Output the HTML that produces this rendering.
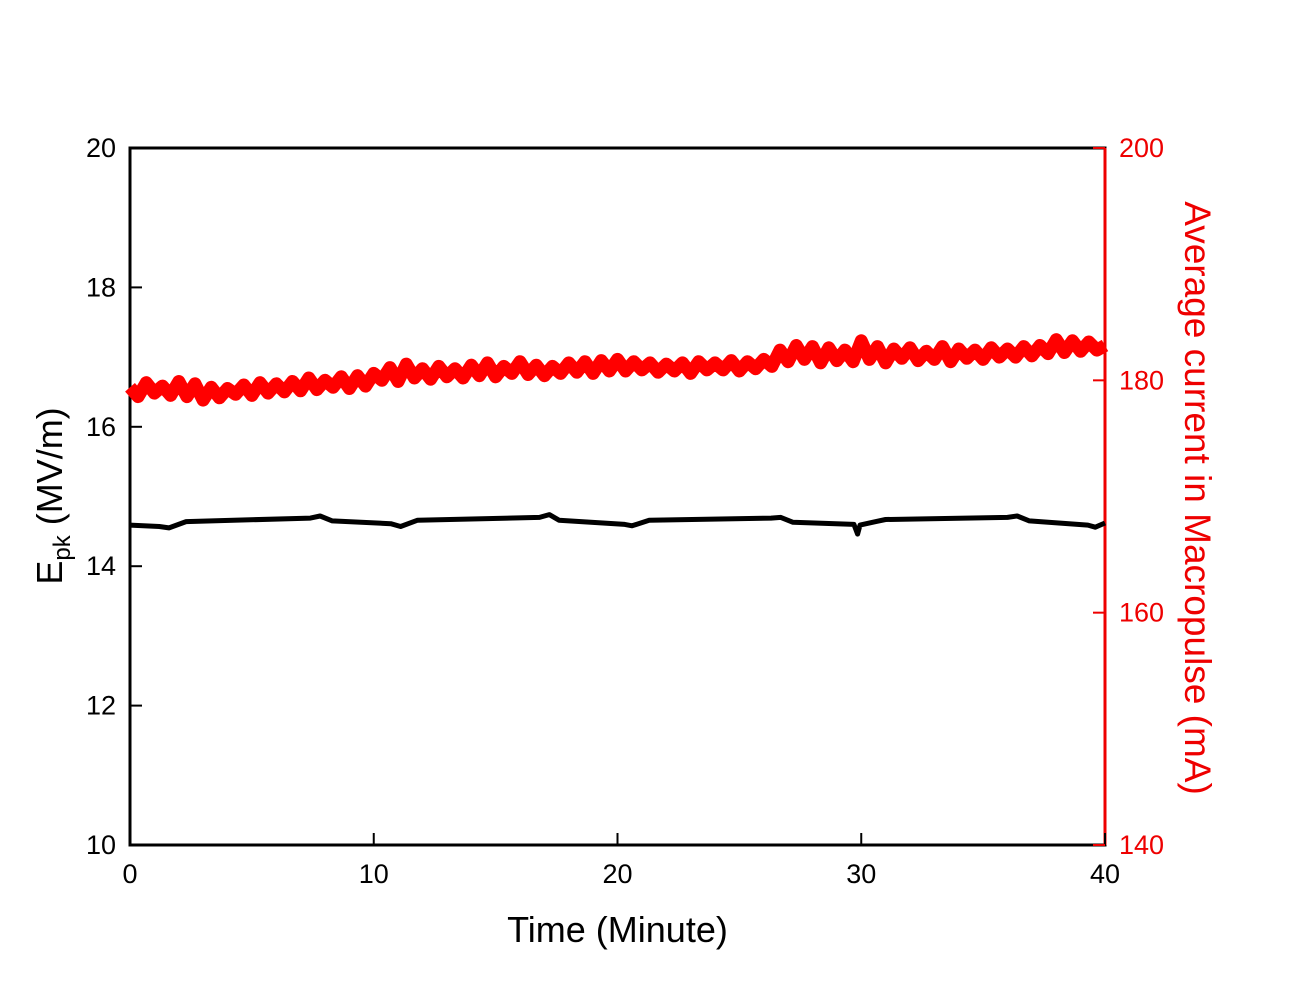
<!DOCTYPE html>
<html><head><meta charset="utf-8"><style>
body{margin:0;background:#fff}
svg text{font-family:"Liberation Sans",Arial,sans-serif}
</style></head><body>
<svg id="chart" width="1300" height="994">
<g id="axes"></g><g id="series"></g>
</svg>
<script>
const xTicks=[0,10,20,30,40];
const yLeftTicks=[10,12,14,16,18,20];
const yRightTicks=[140,160,180,200];
const currentValues=[179.4,178.6,179.8,178.9,179.5,178.7,179.9,
178.6,179.7,178.3,179.4,178.5,179.3,
178.8,179.6,178.7,179.8,178.9,179.7,
179.0,179.9,179.1,180.2,179.2,180.0,
179.4,180.3,179.3,180.4,179.5,180.6,
180.0,181.1,179.9,181.4,180.2,181.0,
180.1,181.2,180.3,181.0,180.2,181.3,
180.4,181.5,180.3,181.2,180.6,181.6,
180.5,181.3,180.4,181.2,180.6,181.5,
180.7,181.6,180.6,181.7,180.8,181.8,
180.8,181.6,180.9,181.5,180.7,181.4,
180.8,181.5,180.6,181.6,180.9,181.5,
180.9,181.7,180.8,181.6,181.0,181.8,
181.2,182.6,181.6,183.0,181.8,182.9,
181.5,182.8,181.7,182.6,181.6,183.4,
181.8,182.9,181.5,182.7,181.9,182.8,
181.7,182.5,181.8,182.9,181.6,182.7,
181.9,182.6,181.8,182.8,182.0,182.7,
182.0,182.9,182.1,183.0,182.3,183.5,
182.4,183.4,182.5,183.3,182.6,183.0];
const epkTimes=[0,1.2,1.6,2.3,7.4,7.8,8.3,10.7,11.1,11.8,16.8,17.2,17.6,20.3,20.6,21.3,26.3,26.7,27.2,29.7,29.85,29.95,30.6,31.0,36.0,36.4,36.9,39.3,39.6,40];
const epkValues=[14.59,14.57,14.55,14.64,14.69,14.72,14.65,14.61,14.57,14.66,14.70,14.74,14.66,14.60,14.58,14.66,14.69,14.70,14.63,14.60,14.46,14.59,14.64,14.67,14.70,14.72,14.65,14.59,14.56,14.62];

const L=130,R=1105,T=148,B=845;
const xs=v=>L+(v-0)/(40-0)*(R-L);
const yl=v=>B-(v-10)/(20-10)*(B-T);
const yr=v=>B-(v-140)/(200-140)*(B-T);
const NS="http://www.w3.org/2000/svg";
const axes=document.getElementById('axes'),series=document.getElementById('series');
function mk(tag,attrs,parent,txt){const e=document.createElementNS(NS,tag);for(const k in attrs)e.setAttribute(k,attrs[k]);if(txt!=null)e.textContent=txt;parent.appendChild(e);return e;}

let e;
e=mk('rect',{x:L,y:T,width:R-L,height:B-T,fill:'none',stroke:'#000','stroke-width':3},axes);


e=mk('line',{x1:R,y1:T,x2:R,y2:B,stroke:'#e00','stroke-width':3},axes);


xTicks.forEach(v=>{
 e=mk('line',{x1:xs(v),y1:B,x2:xs(v),y2:B-12,stroke:'#000','stroke-width':2},axes);
 
 
 e=mk('text',{x:xs(v),y:B+38,'font-size':27,'text-anchor':'middle'},axes,v);
 
 
});
yLeftTicks.forEach(v=>{
 e=mk('line',{x1:L,y1:yl(v),x2:L+12,y2:yl(v),stroke:'#000','stroke-width':2},axes);
 
 
 e=mk('text',{x:L-14,y:yl(v)+9,'font-size':27,'text-anchor':'end'},axes,v);
 
 
});
yRightTicks.forEach(v=>{
 e=mk('line',{x1:R,y1:yr(v),x2:R-12,y2:yr(v),stroke:'#e00','stroke-width':2},axes);
 
 
 e=mk('text',{x:R+14,y:yr(v)+9,'font-size':27,fill:'#e00'},axes,v);
 
 
});
e=mk('text',{x:(L+R)/2,y:942,'font-size':36,'text-anchor':'middle'},axes,'Time (Minute)');


e=mk('text',{transform:'translate(62,496) rotate(-90)','font-size':36,'text-anchor':'middle'},axes);


e.innerHTML='E<tspan font-size="24" dy="8">pk</tspan><tspan dy="-8"> (MV/m)</tspan>';
e=mk('text',{transform:'translate(1185,498) rotate(90)','font-size':37,'text-anchor':'middle',fill:'#e00'},axes,'Average current in Macropulse (mA)');



const n=currentValues.length;
const rp=currentValues.map((v,i)=>xs(i*40/(n-1)).toFixed(1)+','+yr(v).toFixed(1)).join(' ');
e=mk('polyline',{points:rp,fill:'none',stroke:'#f00','stroke-width':13,'stroke-linejoin':'round','stroke-linecap':'butt'},series);


const bp=epkTimes.map((t,i)=>xs(t).toFixed(1)+','+yl(epkValues[i]).toFixed(1)).join(' ');
e=mk('polyline',{points:bp,fill:'none',stroke:'#000','stroke-width':5,'stroke-linejoin':'round'},series);


</script>
</body></html>
